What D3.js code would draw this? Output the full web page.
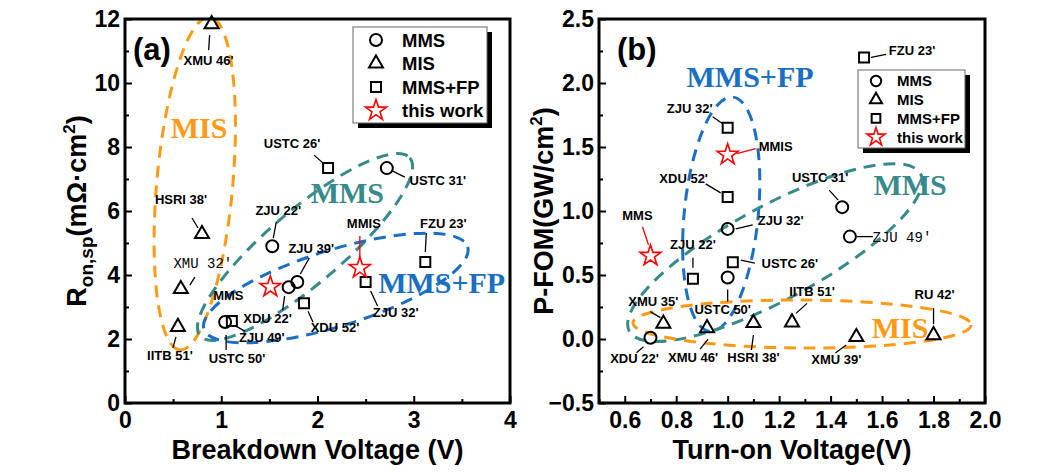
<!DOCTYPE html>
<html>
<head>
<meta charset="utf-8">
<script src="https://cdn.jsdelivr.net/npm/d3@7/dist/d3.min.js"></script>
<style>
body{margin:0;background:#fff}
svg text{font-family:Arial,"Liberation Sans",sans-serif;font-weight:bold}
</style>
</head>
<body>
<svg id="chart" width="1056" height="472"></svg>
<script>
// ---- panel (a): Ron,sp vs breakdown voltage ----
var aMmsNames = ["ZJU 22'", "ZJU 39'", "XDU 22'", "USTC 31'", "USTC 50'"]
var aMmsX = [1.53, 1.79, 1.70, 2.72, 1.04]
var aMmsY = [4.90, 3.78, 3.62, 7.34, 2.53]

var aMisNames = ["XMU 46'", "HSRI 38'", "XMU 32'", "IITB 51'"]
var aMisX = [0.90, 0.80, 0.58, 0.55]
var aMisY = [11.84, 5.28, 3.56, 2.38]

var aFpNames = ["USTC 26'", "FZU 23'", "ZJU 32'", "XDU 52'", "ZJU 49'"]
var aFpX = [2.11, 3.12, 2.50, 1.86, 1.11]
var aFpY = [7.34, 4.41, 3.78, 3.12, 2.56]

var aStarNames = ["MMS", "MMIS"]
var aStarX = [1.51, 2.44]
var aStarY = [3.63, 4.22]

var aXTicks = [0, 1, 2, 3, 4]
var aYTicks = [0, 2, 4, 6, 8, 10, 12]

// ---- panel (b): P-FOM vs turn-on voltage ----
var bMmsNames = ["ZJU 32'", "USTC 50'", "XDU 22'", "USTC 31'", "ZJU 49'"]
var bMmsX = [1.00, 1.00, 0.70, 1.445, 1.475]
var bMmsY = [0.86, 0.48, 0.01, 1.03, 0.80]

var bMisNames = ["XMU 35'", "XMU 46'", "HSRI 38'", "IITB 51'", "XMU 39'", "RU 42'"]
var bMisX = [0.75, 0.92, 1.10, 1.25, 1.50, 1.80]
var bMisY = [0.12, 0.085, 0.125, 0.13, 0.015, 0.03]

var bFpNames = ["FZU 23'", "ZJU 32'", "XDU 52'", "USTC 26'", "ZJU 22'"]
var bFpX = [1.53, 1.00, 1.00, 1.02, 0.865]
var bFpY = [2.20, 1.65, 1.11, 0.60, 0.47]

var bStarNames = ["MMIS", "MMS"]
var bStarX = [1.00, 0.70]
var bStarY = [1.44, 0.65]

var bXTicks = [0.6, 0.8, 1.0, 1.2, 1.4, 1.6, 1.8, 2.0]
var bYTicks = [-0.5, 0, 0.5, 1.0, 1.5, 2.0, 2.5]

var legendNames = ["MMS", "MIS", "MMS+FP", "this work"]

// group outlines: two ends of the long axis (data units) + half width in px
var aGroups = [
  {name:"MIS", x1:0.88, y1:12.06, x2:0.57, y2:1.66, w:38, tx:0.77, ty:8.28},
  {name:"MMS", x1:0.78, y1:2.09, x2:2.96, y2:7.66, w:37, tx:2.31, ty:6.25},
  {name:"MMS+FP", x1:0.82, y1:2.31, x2:3.56, y2:4.88, w:38, tx:3.29, ty:3.44}
]
var bGroups = [
  {name:"MMS+FP", x1:1.02, y1:1.89, x2:0.93, y2:0.06, w:37, tx:1.087, ty:1.97},
  {name:"MMS", x1:0.618, y1:0.06, x2:1.75, y2:1.29, w:47, tx:1.709, ty:1.125},
  {name:"MIS", x1:0.632, y1:0.125, x2:1.946, y2:0.11, w:24, tx:1.67, ty:0.01}
]

// label placement: [dx, dy, leader x1, y1, x2, y2] relative to the point, px
var aMmsLab = [[6,-31,4,-24,1,-8],[14,-29,12,-24,3,-8],[-21,36,-4,9,-6,23],[51,17,6,3,18,9],[12,41,1,13,1,28]]
var aMisLab = [[-3,41,-2,11,-3,26],[-21,-30,-10,-16,-4,-6],[22,-21,9,-4,14,-12],[-8,33,-5,21,-2,10]]
var aFpLab = [[-36,-20,-14,-13,-5,-5],[18,-34,1,-29,0,-10],[30,35,5,9,12,24],[31,29,4,8,9,19],[30,21,4,5,13,10]]
var aStarLab = [[-42,13],[4,-40,0,-32,0,-11]]

var bMmsLab = [[53,-4,8,0,25,-4],[-5,36,0,12,0,24],[-16,25,-7,9,-14,15],[-22,-25,-4,-7,-13,-17],[52,5,7,0,23,0]]
var bMisLab = [[-10,-18,-3,-6,-13,-12],[-14,34,1,11,-7,21],[0,39,0,12,-2,27],[20,-26,4,-9,15,-19],[-20,27,-10,8,-21,16],[1,-36,0,-11,0,-27]]
var bFpLab = [[48,-2,7,0,22,-3],[-38,-15,-5,-4,-15,-11],[-44,-14,-7,-4,-22,-13],[57,6,8,-2,22,1],[0,-30,0,-11,0,-21]]
var bStarLab = [[48,-4,9,-1,28,-6],[-13,-36,-2,-11,-8,-29]]

var groupColor = {"MIS":"#ff9a16", "MMS":"#378a8c", "MMS+FP":"#1b6fc2"}

var svg = d3.select("#chart")

var symType = {circle:d3.symbolCircle, tri:d3.symbolTriangle, square:d3.symbolSquare, star:d3.symbolStar}
var symSize = {circle:113, tri:85, square:100, star:136}

var drawPanel = function(p)
{
    var xScale = d3.scaleLinear().domain(p.xDomain).range(p.xRange)
    var yScale = d3.scaleLinear().domain(p.yDomain).range(p.yRange)
    var g = svg.append("g").attr("id", p.id)
    var left = p.xRange[0], right = p.xRange[1], top = p.yRange[1], bottom = p.yRange[0]

    g.append("clipPath").attr("id", "clip" + p.id)
     .append("rect").attr("x", left).attr("y", top)
     .attr("width", right - left).attr("height", bottom - top)

    // dashed group outlines
    var og = g.append("g").attr("clip-path", "url(#clip" + p.id + ")")
    p.groups.forEach(function(e){
        var ax = xScale(e.x1), ay = yScale(e.y1), bx = xScale(e.x2), by = yScale(e.y2)
        var cx = (ax + bx) / 2, cy = (ay + by) / 2
        var a = Math.hypot(bx - ax, by - ay) / 2
        var ang = Math.atan2(by - ay, bx - ax) * 180 / Math.PI
        og.append("ellipse")
          .attr("cx", 0).attr("cy", 0).attr("rx", a).attr("ry", e.w)
          .attr("transform", "translate(" + cx + "," + cy + ") rotate(" + ang + ")")
          .attr("fill", "none")
          .attr("stroke", groupColor[e.name])
          .attr("stroke-width", 3)
          .attr("stroke-dasharray", "12,8")
    })

    // big group names
    g.selectAll("text.grp").data(p.groups).enter().append("text")
     .attr("class", "grp")
     .attr("x", function(e){ return xScale(e.tx) })
     .attr("y", function(e){ return yScale(e.ty) })
     .attr("text-anchor", "middle")
     .style("font-family", "'Liberation Serif','Times New Roman',serif")
     .style("font-size", "30px")
     .attr("fill", function(e){ return groupColor[e.name] })
     .text(function(e){ return e.name })

    // points, leaders, labels
    p.series.forEach(function(s){
        var rows = s.names.map(function(n, i){
            return {name:n, x:s.xs[i], y:s.ys[i], lab:s.lab[i]}
        })
        var lineColor = s.kind == "star" ? "#ff0000" : "#000"
        rows.forEach(function(d){
            var px = xScale(d.x), py = yScale(d.y)
            if (d.lab.length > 2) {
                g.append("line")
                 .attr("x1", px + d.lab[2]).attr("y1", py + d.lab[3])
                 .attr("x2", px + d.lab[4]).attr("y2", py + d.lab[5])
                 .attr("stroke", lineColor).attr("stroke-width", 1.3)
            }
            var mono = (s.mono || []).indexOf(d.name) >= 0
            g.append("text")
             .attr("x", px + d.lab[0]).attr("y", py + d.lab[1])
             .attr("text-anchor", "middle")
             .style("font-size", mono ? "14px" : "13px")
             .style("font-family", mono ? "'Liberation Mono','Courier New',monospace" : null)
             .style("font-weight", mono ? "normal" : null)
             .text(d.name)
        })
        g.selectAll("path.pt" + s.kind).data(rows).enter().append("path")
         .attr("class", "pt" + s.kind)
         .attr("d", d3.symbol().type(symType[s.kind]).size(symSize[s.kind]))
         .attr("transform", function(d){ return "translate(" + xScale(d.x) + "," + yScale(d.y) + ")" })
         .attr("fill", "none")
         .attr("stroke", s.kind == "star" ? "#ff0000" : "#000")
         .attr("stroke-width", s.kind == "star" ? 1.6 : 2)
    })

    // axes with inward ticks
    var xAxis = d3.axisBottom(xScale).tickValues(p.xTicks).tickSizeInner(-7).tickSizeOuter(0)
        .tickPadding(9).tickFormat(p.xFmt)
    var yAxis = d3.axisLeft(yScale).tickValues(p.yTicks).tickSizeInner(-7).tickSizeOuter(0)
        .tickPadding(5).tickFormat(p.yFmt)
    var xMinor = d3.axisBottom(xScale).tickValues(p.xMinor).tickSizeInner(-4).tickSizeOuter(0).tickFormat("")
    var yMinor = d3.axisLeft(yScale).tickValues(p.yMinor).tickSizeInner(-4).tickSizeOuter(0).tickFormat("")

    ;[[xAxis, "x"], [xMinor, "x"], [yAxis, "y"], [yMinor, "y"]].forEach(function(a){
        var ag = g.append("g")
          .attr("transform", a[1] == "x" ? "translate(0," + bottom + ")" : "translate(" + left + ",0)")
          .call(a[0])
        ag.select(".domain").remove()
        ag.selectAll("line").attr("stroke", "#000").attr("stroke-width", 2)
        ag.selectAll("text").attr("fill", "#000")
          .style("font-size", "23px").style("font-family", "Arial,'Liberation Sans',sans-serif")
          .style("font-weight", "bold")
    })

    g.append("rect").attr("x", left).attr("y", top)
     .attr("width", right - left).attr("height", bottom - top)
     .attr("fill", "none").attr("stroke", "#000").attr("stroke-width", 3)

    // legend
    var L = p.legend
    g.append("rect").attr("x", L.x + 5).attr("y", L.y + 5).attr("width", L.w).attr("height", L.h).attr("fill", "#000")
    g.append("rect").attr("x", L.x).attr("y", L.y).attr("width", L.w).attr("height", L.h)
     .attr("fill", "#fff").attr("stroke", "#666").attr("stroke-width", 1)
    var kinds = ["circle", "tri", "square", "star"]
    legendNames.forEach(function(n, i){
        var yy = L.y + L.first + i * L.step
        g.append("path")
         .attr("d", d3.symbol().type(symType[kinds[i]]).size(symSize[kinds[i]] * L.sym))
         .attr("transform", "translate(" + (L.x + L.sx) + "," + yy + ")")
         .attr("fill", "none")
         .attr("stroke", kinds[i] == "star" ? "#ff0000" : "#000")
         .attr("stroke-width", kinds[i] == "star" ? 1.6 : 2)
        g.append("text").attr("x", L.x + L.tx).attr("y", yy).attr("dy", "0.36em")
         .style("font-size", L.fs + "px").text(n)
    })

    // panel tag
    g.append("text").attr("x", p.tag[1]).attr("y", 60).style("font-size", "31px").text(p.tag[0])

    // axis titles
    g.append("text").attr("x", (left + right) / 2).attr("y", 459)
     .attr("text-anchor", "middle").style("font-size", "27px").text(p.xTitle)
    var yt = g.append("text").attr("transform", "translate(" + p.yTitleX + "," + ((top + bottom) / 2) + ") rotate(-90)")
     .attr("text-anchor", "middle").style("font-size", "27px")
    p.yTitle.forEach(function(t){
        var ts = yt.append("tspan").text(t[0])
        if (t[1] == "sub") ts.attr("dy", 7).style("font-size", "19px")
        if (t[1] == "sup") ts.attr("dy", -11).style("font-size", "17px")
        if (t[1] == "back") ts.attr("dy", t[2])
    })
}

drawPanel({
    id:"pa", xDomain:[0, 4], xRange:[125, 510], yDomain:[0, 12], yRange:[403, 19],
    xTicks:aXTicks, yTicks:aYTicks, xMinor:[0.5, 1.5, 2.5, 3.5], yMinor:[1, 3, 5, 7, 9, 11],
    xFmt:d3.format("d"), yFmt:d3.format("d"),
    groups:aGroups,
    series:[
        {kind:"circle", names:aMmsNames, xs:aMmsX, ys:aMmsY, lab:aMmsLab},
        {kind:"tri", names:aMisNames, xs:aMisX, ys:aMisY, lab:aMisLab, mono:["XMU 32'"]},
        {kind:"square", names:aFpNames, xs:aFpX, ys:aFpY, lab:aFpLab},
        {kind:"star", names:aStarNames, xs:aStarX, ys:aStarY, lab:aStarLab}
    ],
    legend:{x:353, y:27, w:134, h:96, first:13, step:23.5, sx:23, tx:49, fs:18.5, sym:1},
    tag:["(a)", 133],
    xTitle:"Breakdown Voltage (V)", yTitleX:86,
    yTitle:[["R"], ["on,sp", "sub"], ["(mΩ·cm", "back", -7], ["2", "sup"], [")", "back", 11]]
})

drawPanel({
    id:"pb", xDomain:[0.5, 2.0], xRange:[599, 985], yDomain:[-0.5, 2.5], yRange:[403, 19],
    xTicks:bXTicks, yTicks:bYTicks, xMinor:[0.5, 0.7, 0.9, 1.1, 1.3, 1.5, 1.7, 1.9],
    yMinor:[-0.25, 0.25, 0.75, 1.25, 1.75, 2.25],
    xFmt:d3.format(".1f"), yFmt:d3.format(".1f"),
    groups:bGroups,
    series:[
        {kind:"circle", names:bMmsNames, xs:bMmsX, ys:bMmsY, lab:bMmsLab, mono:["ZJU 49'"]},
        {kind:"tri", names:bMisNames, xs:bMisX, ys:bMisY, lab:bMisLab},
        {kind:"square", names:bFpNames, xs:bFpX, ys:bFpY, lab:bFpLab},
        {kind:"star", names:bStarNames, xs:bStarX, ys:bStarY, lab:bStarLab}
    ],
    legend:{x:858, y:70, w:107, h:78, first:11, step:18.7, sx:18, tx:39, fs:15, sym:0.75},
    tag:["(b)", 617],
    xTitle:"Turn-on Voltage(V)", yTitleX:553,
    yTitle:[["P-FOM(GW/cm"], ["2", "sup"], [")", "back", 11]]
})
</script>
</body>
</html>
